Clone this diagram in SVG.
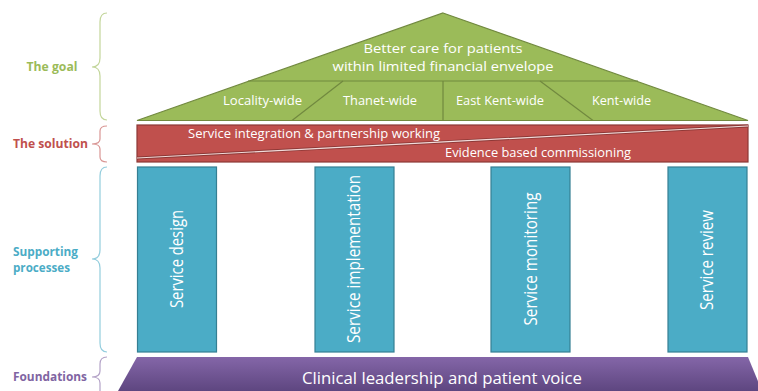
<svg xmlns="http://www.w3.org/2000/svg" width="758" height="391" viewBox="0 0 758 391">
<style>
.lbl{font-family:"Open Sans","Liberation Sans",Arial,sans-serif;font-weight:bold;font-size:12px}
.w{font-family:"Open Sans","Liberation Sans",Arial,sans-serif;fill:#fff}
.brace{fill:none;stroke-width:1.2}
.pillar{fill:#4BACC6;stroke:#357f93;stroke-width:1.2}
</style>
<defs>
<linearGradient id="pg" x1="0" y1="0" x2="0" y2="1">
<stop offset="0" stop-color="#8466a8"/>
<stop offset="1" stop-color="#5e4680"/>
</linearGradient>
</defs>
<rect width="758" height="391" fill="#fff"/>

<g id="labels">
<text class="lbl" x="52" y="71" text-anchor="middle" fill="#9BBB59" textLength="51" lengthAdjust="spacingAndGlyphs">The goal</text>
<text class="lbl" x="13" y="148" fill="#C0504D" textLength="75" lengthAdjust="spacingAndGlyphs">The solution</text>
<text class="lbl" x="13" y="256" fill="#4BACC6" font-size="11" textLength="65" lengthAdjust="spacingAndGlyphs">Supporting</text>
<text class="lbl" x="13" y="271.5" fill="#4BACC6" font-size="11" textLength="57" lengthAdjust="spacingAndGlyphs">processes</text>
<text class="lbl" x="13" y="381" fill="#8064A2" textLength="74" lengthAdjust="spacingAndGlyphs">Foundations</text>
</g>

<g id="braces">
<path class="brace" stroke="#c3d69b" d="M107,13 Q100,13 100,22 L100,58 Q100,67 92,67 Q100,67 100,76 L100,111 Q100,120 107,120"/>
<path class="brace" stroke="#d99694" d="M107,126 Q100,126 100,131 L100,139 Q100,144 92,144 Q100,144 100,149 L100,157 Q100,162 107,162"/>
<path class="brace" stroke="#93cddd" d="M107,167 Q100,167 100,176 L100,250 Q100,259 92,259 Q100,259 100,268 L100,343 Q100,352 107,352"/>
<path class="brace" stroke="#b3a2c7" d="M107,357 Q100,357 100,364 L100,371 Q100,377 92,377 Q100,377 100,383 L100,391"/>
</g>

<g id="roof">
<polygon points="443,13 748,120.5 137,120.5" fill="#9BBB59" stroke="#71893f" stroke-width="1.2"/>
<line x1="248" y1="81" x2="638" y2="81" stroke="#71893f" stroke-width="1.2"/>
<line x1="343" y1="81" x2="292" y2="120.5" stroke="#71893f" stroke-width="1.2"/>
<line x1="443" y1="81" x2="443" y2="120.5" stroke="#71893f" stroke-width="1.2"/>
<line x1="540" y1="81" x2="593" y2="120.5" stroke="#71893f" stroke-width="1.2"/>
<text class="w" x="443" y="53" font-size="13" text-anchor="middle" textLength="159" lengthAdjust="spacingAndGlyphs">Better care for patients</text>
<text class="w" x="443" y="71" font-size="13" text-anchor="middle" textLength="221" lengthAdjust="spacingAndGlyphs">within limited financial envelope</text>
<text class="w" x="262.5" y="105" font-size="12" text-anchor="middle" textLength="79" lengthAdjust="spacingAndGlyphs">Locality-wide</text>
<text class="w" x="380" y="105" font-size="12" text-anchor="middle" textLength="74" lengthAdjust="spacingAndGlyphs">Thanet-wide</text>
<text class="w" x="500" y="105" font-size="12" text-anchor="middle" textLength="88" lengthAdjust="spacingAndGlyphs">East Kent-wide</text>
<text class="w" x="621.5" y="105" font-size="12" text-anchor="middle" textLength="59" lengthAdjust="spacingAndGlyphs">Kent-wide</text>
</g>

<g id="solution">
<rect x="137" y="125" width="611" height="37" fill="#C0504D" stroke="#8c3836" stroke-width="1.2"/>
<line x1="137" y1="158" x2="748" y2="126" stroke="#8c3836" stroke-width="3"/>
<line x1="137" y1="158" x2="748" y2="126" stroke="#f2dcdb" stroke-width="1.2"/>
<text class="w" x="314" y="137.5" font-size="12" text-anchor="middle" textLength="252" lengthAdjust="spacingAndGlyphs">Service integration &amp; partnership working</text>
<text class="w" x="538" y="157" font-size="12" text-anchor="middle" textLength="186" lengthAdjust="spacingAndGlyphs">Evidence based commissioning</text>
</g>

<g id="pillar-design">
<rect class="pillar" x="137.5" y="167" width="79" height="185"/>
<text class="w" transform="translate(182.5,259) rotate(-90)" font-size="18" text-anchor="middle" textLength="98" lengthAdjust="spacingAndGlyphs">Service design</text>
</g>
<g id="pillar-implementation">
<rect class="pillar" x="315" y="167" width="79" height="185"/>
<text class="w" transform="translate(360,259) rotate(-90)" font-size="18" text-anchor="middle" textLength="168" lengthAdjust="spacingAndGlyphs">Service implementation</text>
</g>
<g id="pillar-monitoring">
<rect class="pillar" x="491" y="167" width="79" height="185"/>
<text class="w" transform="translate(536.5,259) rotate(-90)" font-size="18" text-anchor="middle" textLength="133" lengthAdjust="spacingAndGlyphs">Service monitoring</text>
</g>
<g id="pillar-review">
<rect class="pillar" x="668" y="167" width="79" height="185"/>
<text class="w" transform="translate(713,260) rotate(-90)" font-size="18" text-anchor="middle" textLength="100" lengthAdjust="spacingAndGlyphs">Service review</text>
</g>

<g id="foundation">
<polygon points="137,357 748,357 762,391 118,391" fill="url(#pg)"/>
<text class="w" x="442" y="384" font-size="17" text-anchor="middle" textLength="280" lengthAdjust="spacingAndGlyphs">Clinical leadership and patient voice</text>
</g>
</svg>
